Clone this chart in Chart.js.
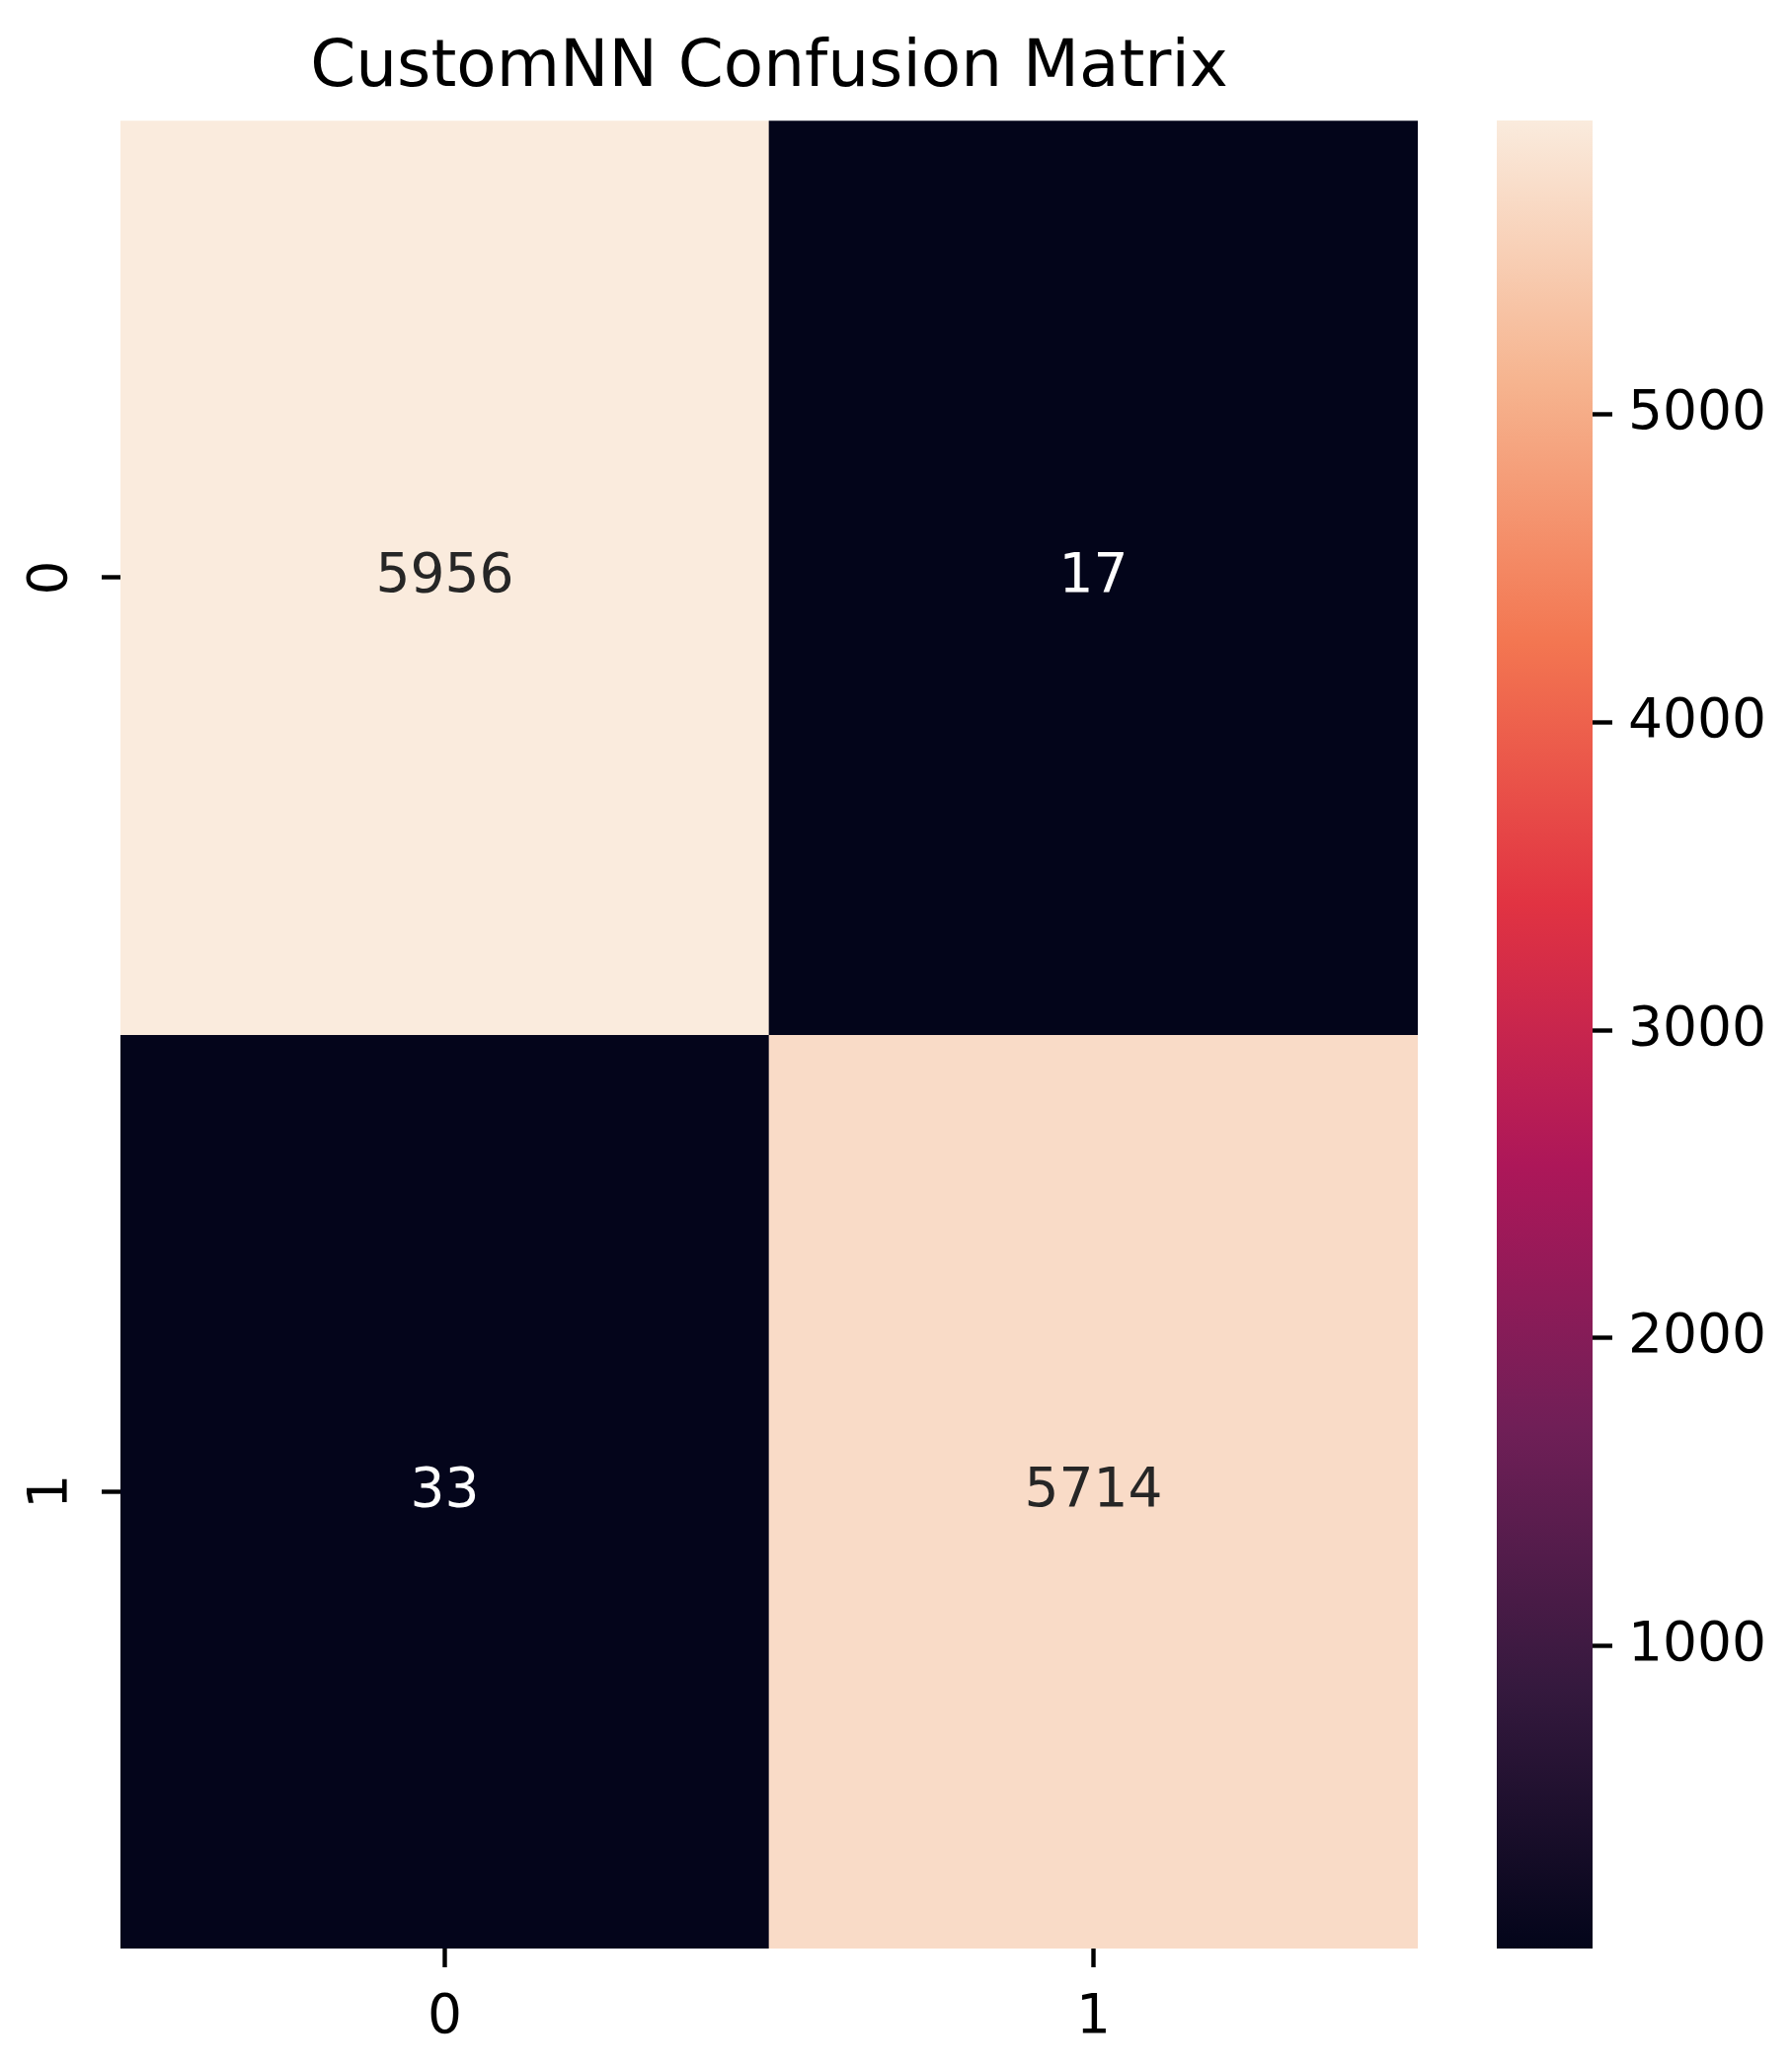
<!DOCTYPE html>
<html lang="en">
<head>
<meta charset="UTF-8">
<title>CustomNN Confusion Matrix</title>
<script src="https://cdn.jsdelivr.net/npm/chart.js@4.4.0/dist/chart.umd.min.js"></script>
<style>
  html, body { margin: 0; padding: 0; background: #fff; }
  #wrap { position: relative; width: 1815px; height: 2096px; }
  canvas { position: absolute; top: 0; }
  #heatmap { left: 0; }
  #colorbar { left: 1480px; }
</style>
</head>
<body>
<div id="wrap">
  <canvas id="heatmap" width="1558" height="2096"></canvas>
  <canvas id="colorbar" width="335" height="2096"></canvas>
</div>
<script>
// confusion matrix values (rows = true class, columns = predicted class)
const classLabels = ['0', '1'];
const trueRow0 = [5956, 17];
const trueRow1 = [33, 5714];
const colorbarTicks = [1000, 2000, 3000, 4000, 5000];
// seaborn "rocket" colormap, sampled evenly
const rocketStops = ['#03051a', '#35193e', '#701f57', '#ad1759', '#e13342', '#f37651', '#f6b48f', '#faebdd'];

const rows = [trueRow0, trueRow1];
const allValues = rows.flat();
const vmin = Math.min(...allValues);
const vmax = Math.max(...allValues);
const FONT = 'DejaVu Sans';

function hexToRgb(h) {
    return [1, 3, 5].map(i => parseInt(h.substr(i, 2), 16));
}

function rocket(t) {
    t = Math.max(0, Math.min(1, t));
    const n = rocketStops.length - 1;
    const i = Math.min(n - 1, Math.floor(t * n));
    const f = t * n - i;
    const a = hexToRgb(rocketStops[i]);
    const b = hexToRgb(rocketStops[i + 1]);
    return 'rgb(' + a.map((c, k) => Math.round(c + (b[k] - c) * f)).join(',') + ')';
}

function norm(v) {
    return (v - vmin) / (vmax - vmin);
}

// write the count in the middle of every cell
const cellLabels = {
    id: 'cellLabels',
    afterDatasetsDraw(chart) {
        const ctx = chart.ctx;
        ctx.save();
        ctx.font = '55px "' + FONT + '"';
        ctx.textAlign = 'center';
        ctx.textBaseline = 'middle';
        chart.data.datasets.forEach((ds, i) => {
            chart.getDatasetMeta(i).data.forEach((bar, j) => {
                const v = ds.counts[j];
                ctx.fillStyle = norm(v) < 0.5 ? '#ffffff' : '#262626';
                const p = bar.getCenterPoint();
                ctx.fillText(String(v), p.x, p.y);
            });
        });
        ctx.restore();
    }
};

const tickFont = { family: FONT, size: 55 };

new Chart(document.getElementById('heatmap'), {
    type: 'bar',
    data: {
        labels: classLabels,
        datasets: rows.map((row, r) => ({
            label: 'True ' + classLabels[r],
            data: row.map(() => [r, r + 1]),
            counts: row,
            backgroundColor: row.map(v => rocket(norm(v))),
            borderWidth: 0,
            grouped: false,
            barPercentage: 1,
            categoryPercentage: 1
        }))
    },
    options: {
        responsive: false,
        animation: false,
        devicePixelRatio: 1,
        layout: { padding: { left: 0, right: 122, top: 0, bottom: 0 } },
        plugins: {
            legend: { display: false },
            tooltip: { enabled: false },
            title: {
                display: true,
                fullSize: false,
                text: 'CustomNN Confusion Matrix',
                color: '#000',
                font: { family: FONT, size: 66, weight: 'normal' },
                padding: { top: 30, bottom: 13 }
            }
        },
        scales: {
            x: {
                type: 'category',
                offset: true,
                grid: { offset: false, drawOnChartArea: false, tickLength: 19, tickWidth: 4.4, tickColor: '#000' },
                border: { display: false },
                ticks: { color: '#000', font: tickFont, padding: 19, maxRotation: 0 },
                afterFit: s => { s.height = 123; }
            },
            y: {
                type: 'linear',
                min: 0,
                max: 2,
                reverse: true,
                afterBuildTicks: s => { s.ticks = classLabels.map((_, i) => ({ value: i + 0.5 })); },
                grid: { drawOnChartArea: false, tickLength: 19, tickWidth: 4.4, tickColor: '#000' },
                border: { display: false },
                ticks: {
                    callback: v => classLabels[Math.floor(v)],
                    minRotation: 90,
                    maxRotation: 90,
                    crossAlign: 'center',
                    padding: 33,
                    color: '#000',
                    font: tickFont
                },
                afterFit: s => { s.width = 122; }
            }
        }
    },
    plugins: [cellLabels]
});

function colorbarFill(context) {
    const area = context.chart.chartArea;
    if (!area) return rocketStops[0];
    const g = context.chart.ctx.createLinearGradient(0, area.bottom, 0, area.top);
    rocketStops.forEach((c, i) => g.addColorStop(i / (rocketStops.length - 1), c));
    return g;
}

new Chart(document.getElementById('colorbar'), {
    type: 'bar',
    data: {
        labels: ['scale'],
        datasets: [{
            data: [[vmin, vmax]],
            backgroundColor: colorbarFill,
            borderWidth: 0,
            barPercentage: 1,
            categoryPercentage: 1
        }]
    },
    options: {
        responsive: false,
        animation: false,
        devicePixelRatio: 1,
        layout: { padding: { left: 36, top: 122, bottom: 123, right: 0 } },
        plugins: {
            legend: { display: false },
            tooltip: { enabled: false }
        },
        scales: {
            x: { display: false },
            y: {
                position: 'right',
                min: vmin,
                max: vmax,
                afterBuildTicks: s => { s.ticks = colorbarTicks.map(v => ({ value: v })); },
                grid: { drawOnChartArea: false, tickLength: 20, tickWidth: 4.4, tickColor: '#000' },
                border: { display: false },
                ticks: { color: '#000', font: tickFont, padding: 16, callback: v => String(v) },
                afterFit: s => { s.width = 202; }
            }
        }
    }
});
</script>
</body>
</html>
